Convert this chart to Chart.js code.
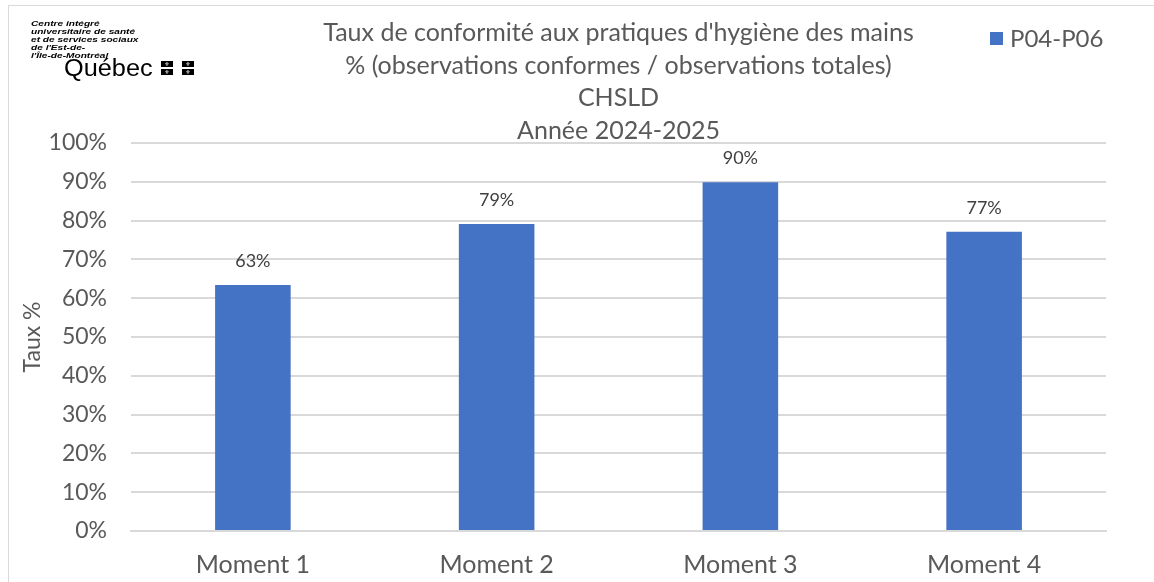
<!DOCTYPE html>
<html lang="fr">
<head>
<meta charset="utf-8">
<title>Taux de conformité aux pratiques d'hygiène des mains</title>
<script src="https://cdn.jsdelivr.net/npm/chart.js@4/dist/chart.umd.min.js"></script>
<style>
  body { margin: 0; background: #fff; }
  #wrap { position: relative; width: 1154px; height: 582px; }
  #frame { position: absolute; left: 8px; top: 5px; width: 1160px; height: 600px;
           border-left: 1px solid #d9d9d9; border-top: 1px solid #d9d9d9; }
  #logo { position: absolute; left: 31px; top: 20px; font-family: "Liberation Sans", Arial, sans-serif;
          font-weight: bold; font-style: italic; font-size: 7.5px; line-height: 8px; color: #000;
          transform: scaleX(1.35); transform-origin: left top; }
  #quebec { position: absolute; left: 64px; top: 57px; font-family: "Liberation Sans", Arial, sans-serif;
            font-size: 23px; line-height: 23px; color: #000; transform: scaleX(1.1); transform-origin: left top; }
  .fl { position: absolute; width: 12px; height: 6px; background: #000; color: #fff;
        font-size: 6px; line-height: 6px; text-align: center; font-family: "DejaVu Sans", sans-serif; }
</style>
</head>
<body>
<div id="wrap">
  <canvas id="myChart" width="1154" height="582"></canvas>
  <div id="frame"></div>
  <div id="logo">Centre intégré<br>universitaire de santé<br>et de services sociaux<br>de l'Est-de-<br>l'Île-de-Montréal</div>
  <div id="quebec">Québec</div>
  <div class="fl" style="left:161px;top:61px">⚜</div>
  <div class="fl" style="left:182px;top:61px">⚜</div>
  <div class="fl" style="left:161px;top:69px">⚜</div>
  <div class="fl" style="left:182px;top:69px">⚜</div>
</div>
<script>
// données du graphique
const categories = ['Moment 1', 'Moment 2', 'Moment 3', 'Moment 4'];
const values = [63.4, 79.1, 89.9, 77.1];
const valueLabels = ['63%', '79%', '90%', '77%'];
const seriesName = 'P04-P06';
const titleLines = [
    "Taux de conformité aux pratiques d'hygiène des mains",
    '% (observations conformes / observations totales)',
    'CHSLD',
    'Année 2024-2025'
];

const textColor = '#595959';
const barColor = '#4472C4';
const fontFamily = 'Lato, "Open Sans", sans-serif';

// étiquettes de valeur au-dessus des barres
const valueLabelPlugin = {
    id: 'valueLabels',
    afterDatasetsDraw(chart) {
        const ctx = chart.ctx;
        const meta = chart.getDatasetMeta(0);
        ctx.save();
        ctx.font = '18px ' + fontFamily;
        ctx.fillStyle = '#404040';
        ctx.textAlign = 'center';
        ctx.textBaseline = 'middle';
        meta.data.forEach((bar, i) => {
            ctx.fillText(valueLabels[i], bar.x, bar.y - 24);
        });
        ctx.restore();
    }
};

// légende en haut à droite
const cornerLegend = {
    id: 'cornerLegend',
    afterDraw(chart) {
        const ctx = chart.ctx;
        const ds = chart.data.datasets[0];
        ctx.save();
        ctx.fillStyle = ds.backgroundColor;
        ctx.fillRect(990, 32, 13, 13);
        ctx.font = '24px ' + fontFamily;
        ctx.fillStyle = textColor;
        ctx.textAlign = 'left';
        ctx.textBaseline = 'middle';
        ctx.fillText(ds.label, 1010, 39);
        ctx.restore();
    }
};

const ctx = document.getElementById('myChart').getContext('2d');
const myChart = new Chart(ctx, {
    type: 'bar',
    data: {
        labels: categories,
        datasets: [{
            label: seriesName,
            data: values,
            backgroundColor: barColor,
            barPercentage: 0.31,
            categoryPercentage: 1
        }]
    },
    options: {
        responsive: false,
        animation: false,
        layout: { padding: { left: 19, right: 48, top: 0, bottom: 0 } },
        plugins: {
            legend: { display: false },
            tooltip: { enabled: false },
            title: {
                display: true,
                text: titleLines,
                color: textColor,
                fullSize: false,
                font: { family: fontFamily, size: 25, weight: 'normal', lineHeight: 1.3 },
                padding: { top: 17, bottom: -4 }
            }
        },
        scales: {
            x: {
                afterFit(scale) { scale.height = 51; },
                grid: { display: false, drawTicks: false },
                border: { color: '#d9d9d9', width: 2 },
                ticks: { color: textColor, font: { family: fontFamily, size: 25 }, padding: 19 }
            },
            y: {
                min: 0,
                max: 100,
                afterFit(scale) { scale.width = 112; },
                grid: { color: '#d9d9d9', lineWidth: 2, drawTicks: false },
                border: { display: false },
                ticks: {
                    stepSize: 10,
                    color: textColor,
                    padding: 24,
                    font: { family: fontFamily, size: 23 },
                    callback: v => v + '%'
                },
                title: {
                    display: true,
                    text: 'Taux %',
                    color: textColor,
                    font: { family: fontFamily, size: 23 },
                    padding: { top: 0, bottom: 0 }
                }
            }
        }
    },
    plugins: [valueLabelPlugin, cornerLegend]
});
</script>
</body>
</html>
